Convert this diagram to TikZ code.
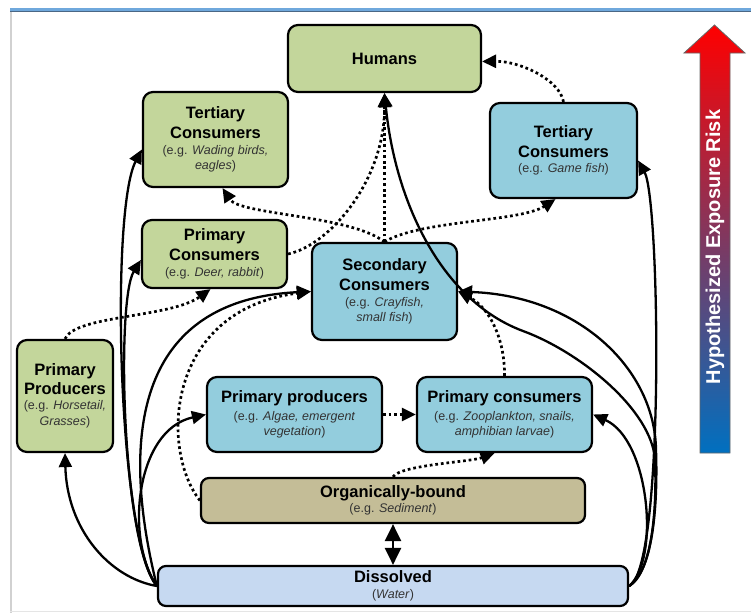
\documentclass[tikz,border=0pt]{standalone}
\usepackage{fontspec}
\setmainfont{Liberation Sans}
\usetikzlibrary{arrows.meta}
\definecolor{grn}{HTML}{C3D69B}
\definecolor{blu}{HTML}{93CDDD}
\definecolor{tanb}{HTML}{C4BD97}
\definecolor{dsv}{HTML}{C6D9F1}
\definecolor{toplt}{HTML}{6FA8DC}
\definecolor{topdk}{HTML}{4A6785}
\definecolor{rskred}{RGB}{255,0,0}
\definecolor{rskmid}{RGB}{140,80,150}
\definecolor{rskblu}{RGB}{0,112,192}
\newcommand\ttl[1]{{\fontsize{16.5}{20}\selectfont\bfseries #1}}
\newcommand\sbt[1]{{\fontsize{12.5}{15}\selectfont\color{black!80}#1}}
\begin{document}
\begin{tikzpicture}[x=1pt,y=-1pt,
  box/.style={draw, line width=2.2pt, rounded corners=10pt, align=center,
    inner sep=0pt, font=\fontsize{12.5}{15.5}\selectfont, text=black},
  sol/.style={line width=2.3pt, -{Triangle[length=14pt,width=13pt]}},
  dotl/.style={line width=2.7pt, dash pattern=on 2.7pt off 2.9pt,
    -{Triangle[length=14pt,width=13pt]}}]
\useasboundingbox (0,0) rectangle (751,613);
% frame
\fill[toplt] (10,8) rectangle (751,10.5);
\fill[topdk] (10,10.5) rectangle (751,12);
\draw[black!18, line width=1.5pt] (10.75,12) -- (10.75,613);
\draw[black!10, line width=1pt] (10,611) -- (751,611);

% nodes
\node[box, fill=grn, minimum width=193pt, minimum height=67pt] (hum) at (384.5,58.5) {\ttl{Humans}};
\node[box, fill=grn, minimum width=145pt, minimum height=95pt] (tcg) at (215.5,139.5)
  {\ttl{Tertiary}\\[4.5pt]\ttl{Consumers}\\\sbt{(e.g. \textit{Wading birds,}}\\\sbt{\textit{eagles})}};
\node[box, fill=blu, minimum width=147pt, minimum height=95pt] (tcb) at (563.5,150.5)
  {\ttl{Tertiary}\\[4.5pt]\ttl{Consumers}\\\sbt{(e.g. \textit{Game fish})}};
\node[box, fill=grn, minimum width=145pt, minimum height=68pt] (pcg) at (214.5,254)
  {\ttl{Primary}\\[4.5pt]\ttl{Consumers}\\\sbt{(e.g. \textit{Deer, rabbit})}};
\node[box, fill=blu, minimum width=145pt, minimum height=97pt] (sec) at (384.5,291.5)
  {\ttl{Secondary}\\[4.5pt]\ttl{Consumers}\\\sbt{(e.g. \textit{Crayfish,}}\\\sbt{\textit{small fish})}};
\node[box, fill=grn, minimum width=96pt, minimum height=112pt] (ppg) at (65,396)
  {\ttl{Primary}\\[3pt]\ttl{Producers}\\\sbt{(e.g. \textit{Horsetail,}}\\\sbt{\textit{Grasses})}};
\node[box, fill=blu, minimum width=175pt, minimum height=75pt] (ppb) at (294.5,414.5)
  {\ttl{Primary producers}\\[2pt]\sbt{(e.g. \textit{Algae, emergent}}\\\sbt{\textit{vegetation})}};
\node[box, fill=blu, minimum width=175pt, minimum height=75pt] (pcb) at (504.5,414.5)
  {\ttl{Primary consumers}\\[2pt]\sbt{(e.g. \textit{Zooplankton, snails,}}\\\sbt{\textit{amphibian larvae})}};
\node[box, fill=tanb, minimum width=384pt, minimum height=45pt, rounded corners=8pt] (org) at (393,500.5)
  {\ttl{Organically-bound}\\\sbt{(e.g. \textit{Sediment})}};
\node[box, fill=dsv, minimum width=470pt, minimum height=40pt, rounded corners=8pt] (dis) at (393,586)
  {\ttl{Dissolved}\\\sbt{(\textit{Water})}};

% exposure risk arrow
\shade[top color=rskred, middle color=rskmid, bottom color=rskblu, draw=black!60, line width=0.8pt]
  (700,453) -- (700,53) -- (684,53) -- (714.5,25) -- (745,53) -- (730,53) -- (730,453) -- cycle;
\node[rotate=90, text=white, font=\fontsize{20}{24}\selectfont\bfseries] (rsk) at (715,247) {Hypothesized Exposure Risk};

% solid connectors, left
\draw[sol] (dis.west) .. controls (110,578) and (67,530) .. (ppg.south);
\draw[sol] (dis.west) .. controls (118,540) and (110,210) .. ([yshift=-10pt]tcg.west);
\draw[sol] (dis.west) .. controls (122,545) and (116,300) .. ([yshift=-6pt]pcg.west);
\draw[sol] (dis.west) .. controls (118,430) and (140,300) .. (sec.west);
\draw[sol] (dis.west) .. controls (125,540) and (135,430) .. (ppb.west);
% solid connectors, right
\draw[sol] (dis.east) .. controls (665,570) and (660,200) .. ([yshift=-10pt]tcb.east);
\draw[sol] (dis.east) .. controls (660,560) and (650,440) .. (pcb.east);
\draw[sol] (dis.east) .. controls (652,572) and (658,510) .. (656,450)
  .. controls (655,370) and (580,296) .. (sec.east);
\draw[sol] (dis.east) .. controls (652,572) and (657,510) .. (655,460)
  .. controls (652,410) and (580,352) .. (523,331)
  .. controls (440,300) and (395,200) .. (hum.south);
% double arrow
\draw[line width=2.3pt, {Triangle[length=17pt,width=16pt]}-{Triangle[length=17pt,width=16pt]}] (org.south) -- (dis.north);

% dotted connectors
\draw[dotl] (tcb.north) .. controls (560,80) and (520,61) .. ([yshift=-3pt]hum.east);
\draw[dotl] (pcg.east) .. controls (330,245) and (385,180) .. (hum.south);
\draw[dotl] (sec.north) -- (hum.south);
\draw[dotl] (sec.north) .. controls (350,215) and (240,215) .. ([xshift=7pt]tcg.south);
\draw[dotl] (sec.north) .. controls (420,220) and (520,222) .. ([xshift=-8pt]tcb.south);
\draw[dotl] (ppg.north) .. controls (75,315) and (170,318) .. ([xshift=-4pt]pcg.south);
\draw[dotl] (ppb.east) -- (pcb.west);
\draw[dotl] (pcb.north) .. controls (505,340) and (490,308) .. (sec.east);
\draw[dotl] (org.north) .. controls (400,465) and (470,462) .. ([xshift=-10pt]pcb.south);
\draw[dotl] (org.west) .. controls (160,450) and (165,310) .. (sec.west);
\end{tikzpicture}
\end{document}
